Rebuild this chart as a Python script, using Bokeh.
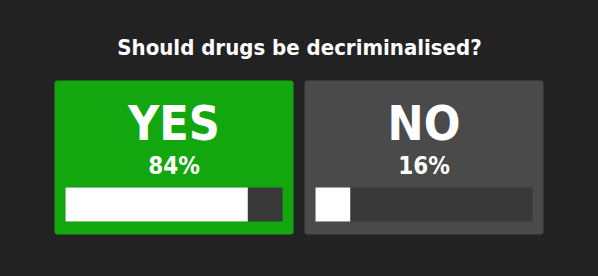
from bokeh.plotting import figure
from bokeh.models import Range1d, ColumnDataSource
from bokeh.core.properties import value
from bokeh.embed import file_html
from bokeh.resources import INLINE

# Data
title = "Should drugs be decriminalised?"
categories = ["YES", "NO"]
percents = [84, 16]
box_colors = ["#12a60f", "#4a4a4a"]

W, H = 598, 276
p = figure(width=W, height=H, output_backend="svg", toolbar_location=None,
           x_range=Range1d(0, W), y_range=Range1d(H, 0), min_border=0)
p.axis.visible = False
p.grid.visible = False
p.outline_line_color = None
p.background_fill_color = "#222222"
p.border_fill_color = "#222222"
p.styles = {"background-color": "#222222"}

FONT = value("DejaVu Sans Condensed")

# layout
box_lefts = [54, 304]
box_w = 239
box_top, box_bottom = 80, 234
pad = 11
bar_top, bar_bottom = 187, 221

centers = [l + box_w / 2 for l in box_lefts]
bar_lefts = [l + pad for l in box_lefts]
bar_w = box_w - 2 * pad
fill_rights = [bl + bar_w * v / 100 for bl, v in zip(bar_lefts, percents)]

src = ColumnDataSource(dict(
    left=box_lefts, right=[l + box_w for l in box_lefts], color=box_colors,
    cx=centers, cat=categories, pct=[f"{v}%" for v in percents],
    bl=bar_lefts, br=[b + bar_w for b in bar_lefts], fr=fill_rights,
))

p.quad(left="left", right="right", top=box_top, bottom=box_bottom,
       fill_color="color", line_color=None, border_radius=3, source=src)
p.quad(left="bl", right="br", top=bar_top, bottom=bar_bottom,
       fill_color="#393939", line_color=None, source=src)
p.quad(left="bl", right="fr", top=bar_top, bottom=bar_bottom,
       fill_color="#ffffff", line_color=None, source=src)

p.text(x="cx", y=122, text="cat", text_font=FONT, text_font_style="bold",
       text_font_size="48px", text_color="#ffffff", text_align="center",
       text_baseline="alphabetic", source=src)
p.text(x="cx", y=165, text="pct", text_font=FONT, text_font_style="bold",
       text_font_size="24px", text_color="#ffffff", text_align="center",
       text_baseline="alphabetic", source=src)

p.text(x=[W / 2], y=[47], text=[title], text_font=FONT, text_font_style="bold",
       text_font_size="22px", text_color="#ffffff", text_align="center",
       text_baseline="alphabetic")

html = file_html(p, INLINE)
html = html.replace("<body>", '<body style="margin:0;background:#222222;">', 1)
open("out.html", "w").write(html)
